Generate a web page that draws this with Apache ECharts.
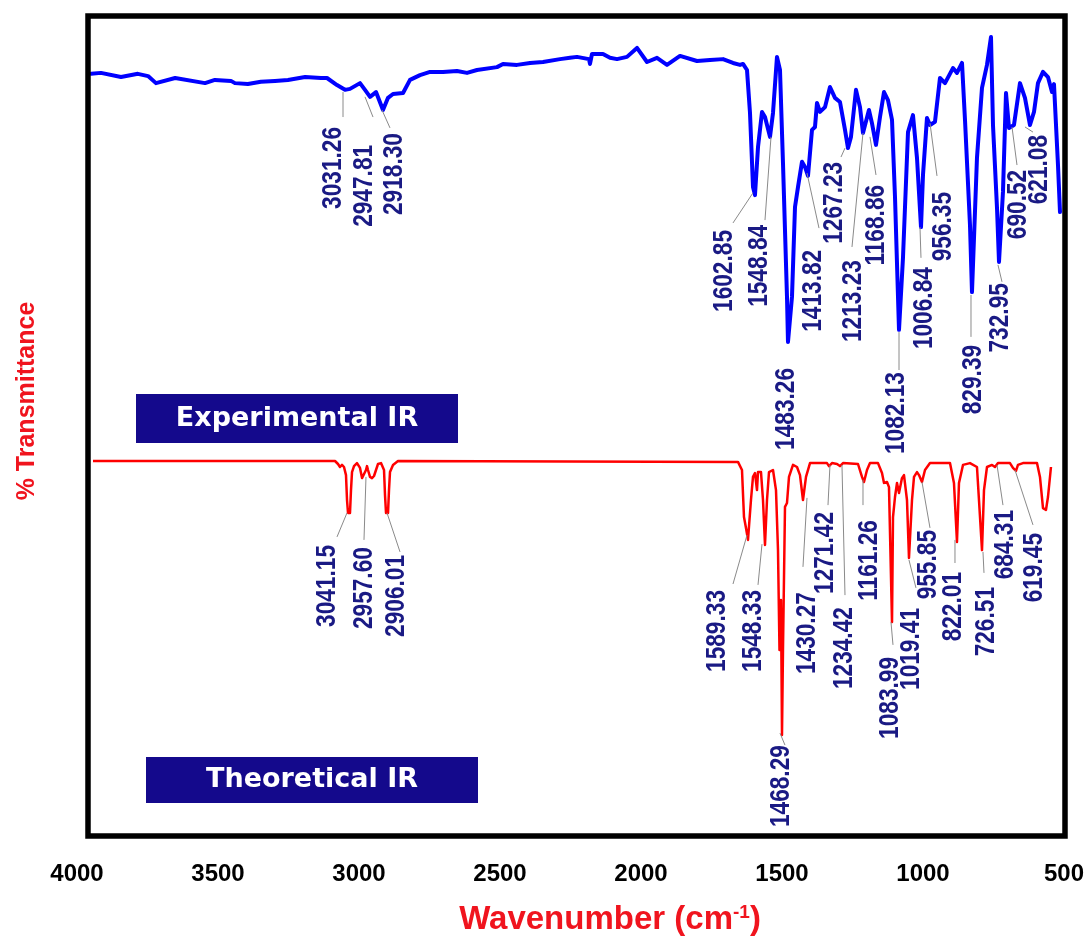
<!DOCTYPE html>
<html>
<head>
<meta charset="utf-8">
<script src="https://cdn.jsdelivr.net/npm/echarts@6/dist/echarts.min.js"></script>
<style>
html,body{margin:0;padding:0;background:#fff;}
#chart{width:1091px;height:939px;}
</style>
</head>
<body>
<div id="chart"></div>
<script>
// ---- Experimental IR spectrum (wavenumber, % transmittance) ----
const expWn = [3950,3915,3844,3784,3748,3720,3652,3546,3511,3454,3440,3394,3348,3298,3252,3191,3135,
  3113.5,3078.0,3049.6,3031.9,2996.4,2978.7,2960.8,2939.7,2914.9,2897.1,2879.4,2843.9,2819.1,2783.7,
  2748.2,2702.1,2652.5,2617.0,2581.6,2510.6,2489.4,2439.7,2393.6,2347.5,2287.2,2251.8,2227.0,2184.4,2180.9,2173.8,
  2134.8,2109.9,2085.1,2049.7,2014.2,1978.7,1943.3,1907.8,1861.7,1801.4,1755.3,1709.2,1673.8,1648.9,1638.3,
  1624.1,1613.5,1602.8,1595.8,1585.1,1570.9,1560.3,1542.6,1531.9,1517.8,1507.1,1496.5,1482.3,1478.8,1464.6,
  1453.9,1443.3,1429.1,1418.5,1407.8,1393.6,1383.0,1375.9,1365.3,1347.5,1329.8,1312.1,1294.4,1276.6,1266.0,
  1255.4,1237.6,1223.4,1212.8,1191.7,1181.0,1166.7,1152.5,1138.3,1124.2,1109.9,1099.3,1085.1,
  1071.0,1053.2,1035.5,1021.3,1007.1,1000.0,985.9,975.2,957.5,939.8,922.0,893.7,879.5,861.7,851.1,833.4,826.3,
  808.6,790.8,773.1,758.9,751.8,737.6,730.5,716.4,705.7,695.1,677.4,656.1,638.4,620.6,606.4,592.3,574.5,
  556.8,542.6,535.5,521.3,514.2];
const expT = [86.3,86.6,85.3,86.3,85.6,83.4,85.0,83.4,84.4,84.1,83.4,83.1,83.8,84.1,84.4,85.3,85.0,
  85.0,82.8,81.3,81.6,83.4,81.3,79.1,80.6,75.0,78.8,80.0,80.3,84.4,85.9,
  86.9,86.9,87.2,86.6,87.5,88.4,89.4,89.1,89.7,90.0,90.9,91.3,91.6,90.9,89.4,92.5,
  92.5,91.3,90.9,91.6,94.4,90.0,91.3,89.1,91.9,90.3,90.6,90.9,89.7,89.1,89.4,
  87.5,74.1,50.9,48.4,63.4,74.4,72.8,66.6,74.1,91.6,87.5,58.4,16.6,2.5,16.6,
  44.7,50.9,58.8,57.2,54.4,68.8,69.7,77.2,74.4,75.9,82.2,78.8,77.5,68.8,63.1,
  66.6,81.3,75.9,67.8,75.0,70.9,64.1,72.8,80.6,78.1,71.9,47.8,6.3,
  28.8,68.1,73.4,60.0,38.4,54.7,72.5,70.3,71.3,85.0,83.4,88.1,86.6,89.7,71.9,39.1,18.1,
  60.0,81.9,89.1,97.8,70.3,44.4,27.5,49.4,80.3,69.4,70.3,83.4,78.8,70.3,74.4,83.4,86.9,
  85.3,80.6,83.1,57.8,43.1];

// ---- Theoretical IR spectrum (wavenumber, % transmittance) ----
const theoWn = [3943.2,3085.1,3074.5,3067.4,3060.3,3053.2,3046.1,3042.5,3039.0,3031.9,3028.4,3024.8,3017.7,3007.1,
  2996.4,2989.3,2982.3,2975.2,2971.6,2968.1,2961.0,2953.9,2946.8,2939.7,2932.6,2922.0,2911.3,2907.8,2904.2,2897.1,
  2893.6,2890.1,2879.4,2861.7,
  1656.1,1641.9,1634.8,1627.7,1620.6,1610.0,1602.9,1595.8,1588.7,1585.1,1574.5,1567.4,1560.3,1553.2,1546.1,1531.9,
  1521.3,1514.2,1508.9,1503.6,1500.0,1496.5,1489.4,1482.3,1475.2,1461.0,1446.8,1436.2,1425.6,1414.9,1400.7,
  1340.5,1333.4,1322.7,1305.0,1294.4,1283.7,1230.5,1216.3,1209.3,1198.6,1188.0,1159.6,1145.4,1138.3,1127.7,1120.6,
  1109.9,1106.4,1099.3,1092.2,1085.1,1074.5,1067.4,1056.8,1049.7,1039.0,1031.9,1021.3,1014.2,1003.6,992.9,975.2,
  904.3,890.2,879.5,872.4,858.2,833.4,808.6,801.5,790.8,783.7,773.1,755.3,744.7,734.1,691.6,681.0,670.3,663.2,645.5,
  595.8,585.2,574.5,563.9,556.8,546.2];
const theoT = [98.0,98.0,97.0,96.0,96.7,96.0,93.3,85.0,80.7,80.7,88.3,94.3,96.3,97.3,
  95.7,92.3,92.3,95.0,96.3,95.0,92.7,92.3,93.0,95.0,97.0,97.3,95.0,86.7,80.7,80.7,
  88.3,94.3,96.7,98.0,
  97.7,95.0,79.3,75.7,71.7,85.0,92.7,94.0,88.3,94.3,94.3,85.0,70.0,85.0,94.3,95.0,
  88.3,68.3,35.0,51.7,6.7,35.0,82.7,84.0,92.7,96.7,96.0,93.3,85.0,92.7,97.3,
  97.3,96.3,97.3,97.0,96.3,97.3,97.0,92.7,91.0,95.0,97.3,97.3,94.0,90.7,91.0,89.3,
  44.3,79.3,86.0,90.7,87.3,92.3,93.3,85.0,65.7,85.0,92.7,94.3,93.3,91.0,95.0,97.3,
  97.3,90.7,71.0,90.7,96.7,97.3,96.0,85.0,68.3,88.3,96.0,96.7,96.0,97.3,97.3,95.7,94.7,96.7,97.3,
  97.3,92.7,82.3,81.7,86.0,96.0];

// ---- Peak annotations ----
const expLabels = ['3031.26','2947.81','2918.30','1602.85','1548.84','1483.26','1413.82','1267.23','1213.23',
  '1168.86','1082.13','1006.84','956.35','829.39','732.95','690.52','621.08'];
// [peak wn, peak T, leader end wn, leader end T, text wn, text top T]
const expLabelGeom = [
  [3056.7,80.6,3056.7,72.8,3088.6,69.7],
  [2978.7,79.1,2950.3,72.8,2978.7,64.1],
  [2918.4,75.0,2890.1,69.4,2872.3,67.8],
  [1602.9,49.1,1673.8,39.7,1702.1,37.5],
  [1539.0,66.6,1560.3,40.6,1578.0,39.1],
  [1478.8,2.5,1478.8,2.5,1482.3,-5.6],
  [1411.4,55.3,1368.8,38.1,1386.6,31.3],
  [1276.6,63.1,1290.8,60.3,1312.1,58.8],
  [1212.8,67.8,1251.8,32.2,1244.7,28.1],
  [1188.0,66.6,1166.7,54.7,1163.2,51.6],
  [1085.1,5.6,1085.1,-6.25,1092.2,-6.9],
  [1010.7,38.4,1007.1,28.8,992.9,25.9],
  [975.2,70.9,950.4,54.4,925.6,49.4],
  [829.8,17.2,829.8,4.1,819.2,1.6],
  [734.1,26.6,719.9,21.3,723.5,20.9],
  [684.4,69.7,666.7,57.8,659.6,56.3],
  [638.3,69.7,610.0,68.1,585.2,67.2]
];
const theoLabels = ['3041.15','2957.60','2906.01','1589.33','1548.33','1468.29','1430.27','1271.42','1234.42',
  '1161.26','1083.99','1019.41','955.85','822.01','726.51','684.31','619.45'];
const theoLabelGeom = [
  [3042.5,80.7,3078.0,72.7,3109.9,70.0],
  [2975.2,92.7,2982.3,71.7,2978.7,69.3],
  [2900.7,80.7,2854.6,67.7,2865.2,66.7],
  [1624.1,73.3,1673.8,57.0,1727.0,55.0],
  [1570.9,70.3,1585.1,56.7,1599.3,55.0],
  [1507.1,7.3,1489.4,3.3,1500.0,3.3],
  [1411.4,85.7,1425.6,62.7,1407.8,54.3],
  [1329.8,96.7,1336.9,83.3,1344.0,81.0],
  [1287.3,96.7,1276.6,53.3,1276.6,49.3],
  [1212.8,91.7,1212.8,83.3,1188.0,78.3],
  [1113.5,44.3,1106.4,36.7,1113.5,32.7],
  [1049.7,65.0,1024.9,55.7,1039.0,49.0],
  [1003.6,91.0,975.2,75.7,978.8,75.0],
  [886.6,71.7,886.6,64.0,890.1,61.0],
  [787.3,67.7,783.7,60.7,773.1,56.0],
  [737.6,96.7,716.4,83.3,705.7,81.7],
  [673.8,95.0,610.0,76.7,602.9,74.0]
];

const xTickStep = 500;
const xMin = 500, xMax = 4000;

const LABEL_COLOR = '#1a1a84';
const LABEL_FONT = 'bold 27px "Liberation Sans", Arial, sans-serif';

function labelSeries(xi, yi, geom, texts) {
  return {
    type: 'custom', xAxisIndex: xi, yAxisIndex: yi, clip: false, silent: true, z: 5,
    data: geom,
    renderItem: function (params, api) {
      const a = api.coord([api.value(0), api.value(1)]);
      const e = api.coord([api.value(2), api.value(3)]);
      const t = api.coord([api.value(4), api.value(5)]);
      return {
        type: 'group',
        children: [
          { type: 'line', shape: { x1: a[0], y1: a[1], x2: e[0], y2: e[1] },
            style: { stroke: '#8a8a8a', lineWidth: 1 } },
          { type: 'text', x: t[0], y: t[1], rotation: Math.PI / 2, scaleX: 0.84,
            style: { text: texts[params.dataIndex], fill: LABEL_COLOR, font: LABEL_FONT,
              textAlign: 'right', textVerticalAlign: 'middle', align: 'right', verticalAlign: 'middle' } }
        ]
      };
    }
  };
}

const chart = echarts.init(document.getElementById('chart'), null, { renderer: 'canvas' });
const option = {
  animation: false,
  backgroundColor: '#ffffff',
  grid: [
    { left: 77, right: 27, top: 30, height: 320 },
    { left: 77, right: 27, top: 455, height: 300 }
  ],
  xAxis: [
    { gridIndex: 0, type: 'value', min: xMin, max: xMax, interval: xTickStep, inverse: true, show: false },
    { gridIndex: 1, type: 'value', min: xMin, max: xMax, interval: xTickStep, inverse: true,
      axisLine: { show: false }, axisTick: { show: false }, splitLine: { show: false },
      axisLabel: { margin: 107, color: '#000', fontSize: 24, fontWeight: 'bold',
        fontFamily: '"Liberation Sans", Arial, sans-serif',
        formatter: function (v) { return String(v); } } }
  ],
  yAxis: [
    { gridIndex: 0, type: 'value', min: 0, max: 100, show: false },
    { gridIndex: 1, type: 'value', min: 0, max: 100, show: false }
  ],
  graphic: [
    { type: 'rect', z: 10, shape: { x: 88, y: 16, width: 977, height: 820 },
      style: { fill: 'none', stroke: '#000', lineWidth: 5.5 } },
    { type: 'rect', z: 10, shape: { x: 136, y: 394, width: 322, height: 49 }, style: { fill: '#14098c' } },
    { type: 'text', z: 11, x: 297, y: 419,
      style: { text: 'Experimental IR', fill: '#fff', font: 'bold 27px "DejaVu Sans", sans-serif',
        textAlign: 'center', textVerticalAlign: 'middle', align: 'center', verticalAlign: 'middle' } },
    { type: 'rect', z: 10, shape: { x: 146, y: 757, width: 332, height: 46 }, style: { fill: '#14098c' } },
    { type: 'text', z: 11, x: 312, y: 780,
      style: { text: 'Theoretical IR', fill: '#fff', font: 'bold 27px "DejaVu Sans", sans-serif',
        textAlign: 'center', textVerticalAlign: 'middle', align: 'center', verticalAlign: 'middle' } },
    { type: 'text', z: 11, x: 610, y: 920,
      style: { text: 'Wavenumber (cm{sup|-1})', fill: '#f0141e',
        font: 'bold 33px "Liberation Sans", Arial, sans-serif',
        textAlign: 'center', textVerticalAlign: 'middle', align: 'center', verticalAlign: 'middle',
        rich: { sup: { fill: '#f0141e', font: 'bold 19px "Liberation Sans", Arial, sans-serif', verticalAlign: 'top', padding: [0, 0, 12, 0] } } } },
    { type: 'text', z: 11, x: 27, y: 401, rotation: Math.PI / 2,
      style: { text: '% Transmittance', fill: '#f0141e', font: 'bold 25px "Liberation Sans", Arial, sans-serif',
        textAlign: 'center', textVerticalAlign: 'middle', align: 'center', verticalAlign: 'middle' } }
  ],
  series: [
    { type: 'line', xAxisIndex: 0, yAxisIndex: 0, showSymbol: false, symbol: 'none',
      data: expWn.map((w, i) => [w, expT[i]]),
      lineStyle: { color: '#0000ff', width: 4, join: 'round', cap: 'round' }, z: 3 },
    { type: 'line', xAxisIndex: 1, yAxisIndex: 1, showSymbol: false, symbol: 'none',
      data: theoWn.map((w, i) => [w, theoT[i]]),
      lineStyle: { color: '#ff0000', width: 2.5, join: 'round' }, z: 3 },
    labelSeries(0, 0, expLabelGeom, expLabels),
    labelSeries(1, 1, theoLabelGeom, theoLabels)
  ]
};
chart.setOption(option);
</script>
</body>
</html>
